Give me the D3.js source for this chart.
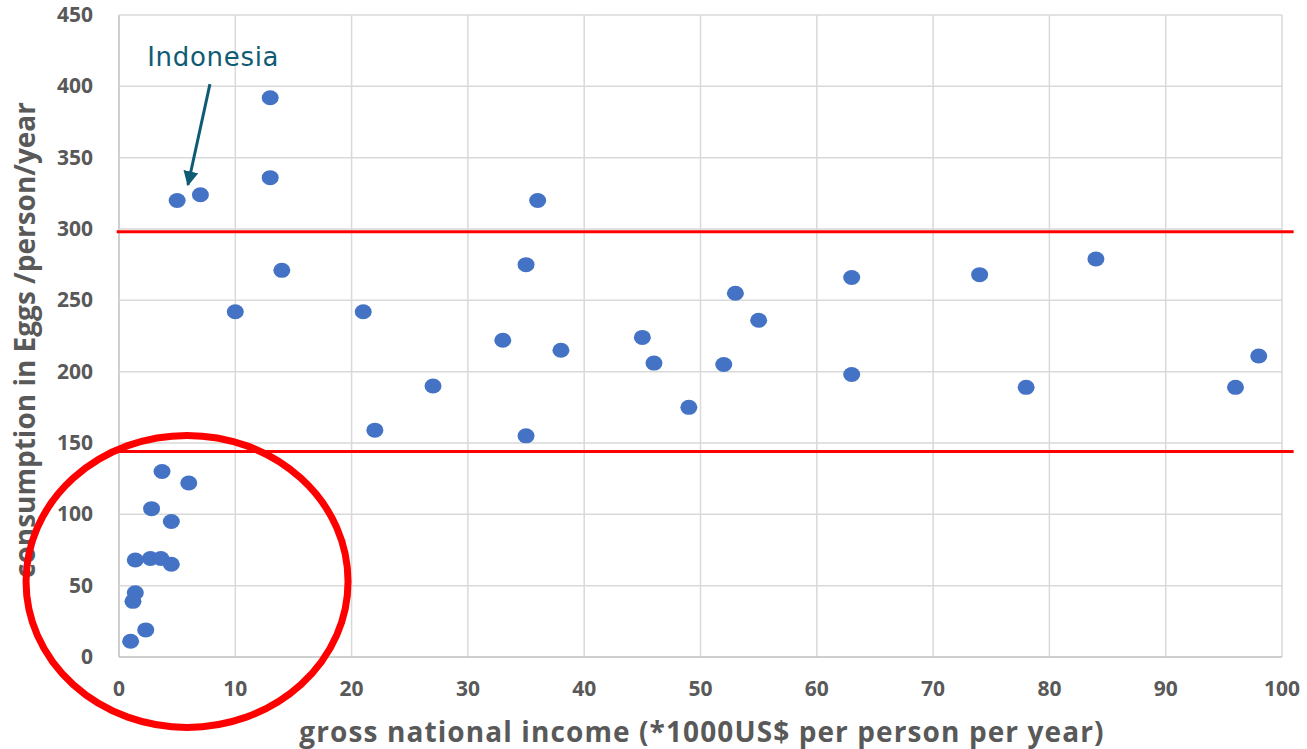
<!DOCTYPE html>
<html>
<head>
<meta charset="utf-8">
<script src="https://cdn.jsdelivr.net/npm/d3@7"></script>
<style>
  body { margin: 0; background: #fff; }
  svg { display: block; }
</style>
</head>
<body>
<svg></svg>
<script>
// gross national income (*1000 US$) and egg consumption per country
var income = [1.0, 2.3, 1.2, 1.4, 1.4, 2.7, 3.6, 4.5, 2.8, 4.5, 3.7, 6.0,
  5.0, 7.0, 13, 13, 14, 10, 21, 22, 27, 33, 35, 36, 35, 38,
  45, 46, 49, 52, 53, 55, 63, 63, 74, 78, 84, 96, 98];
var eggs = [11, 19, 39, 45, 68, 69, 69, 65, 104, 95, 130, 122,
  320, 324, 392, 336, 271, 242, 242, 159, 190, 222, 275, 320, 155, 215,
  224, 206, 175, 205, 255, 236, 266, 198, 268, 189, 279, 189, 211];
var refLines = [298, 144];
var xTicks = d3.range(0, 101, 10);
var yTicks = d3.range(0, 451, 50);
var xTitle = "gross national income (*1000US$ per person per year)";
var yTitle = "consumption in Eggs /person/year";
var label = "Indonesia";

var W = 1307, H = 749;
var margin = {left: 119, right: 25, top: 15, bottom: 92};

var svg = d3.select("svg").attr("width", W).attr("height", H);

var x = d3.scaleLinear().domain([0, 100]).range([margin.left, W - margin.right]);
var y = d3.scaleLinear().domain([0, 450]).range([H - margin.bottom, margin.top]);

var grid = svg.append("g");
grid.selectAll("line.v").data(xTicks).enter().append("line")
  .attr("x1", d => x(d)).attr("x2", d => x(d))
  .attr("y1", y(0)).attr("y2", y(450))
  .attr("stroke", d => d == 0 ? "#bfbfbf" : "#d9d9d9")
  .attr("stroke-width", 1.5);
grid.selectAll("line.h").data(yTicks).enter().append("line")
  .attr("y1", d => y(d)).attr("y2", d => y(d))
  .attr("x1", x(0)).attr("x2", x(100))
  .attr("stroke", d => d == 0 ? "#bfbfbf" : "#d9d9d9")
  .attr("stroke-width", 1.5);

// tick labels
var tickFont = "'Open Sans', sans-serif";
svg.append("g").selectAll("text").data(xTicks).enter().append("text")
  .attr("x", d => x(d)).attr("y", y(0) + 39)
  .attr("text-anchor", "middle")
  .attr("font-family", tickFont).attr("font-weight", "bold")
  .attr("font-size", 21).attr("fill", "#595959")
  .text(d => d);
svg.append("g").selectAll("text").data(yTicks).enter().append("text")
  .attr("x", 93).attr("y", d => y(d) + 7)
  .attr("text-anchor", "end")
  .attr("font-family", tickFont).attr("font-weight", "bold")
  .attr("font-size", 21).attr("fill", "#595959")
  .text(d => d);

// axis titles
svg.append("text")
  .attr("x", 702).attr("y", 742)
  .attr("text-anchor", "middle")
  .attr("font-family", tickFont).attr("font-weight", "bold")
  .attr("font-size", 28).attr("letter-spacing", 1.1).attr("fill", "#595959")
  .text(xTitle);
svg.append("text")
  .attr("transform", "translate(35," + 340 + ") rotate(-90)")
  .attr("text-anchor", "middle")
  .attr("font-family", tickFont).attr("font-weight", "bold")
  .attr("font-size", 28).attr("fill", "#595959")
  .text(yTitle);

// reference lines
svg.append("g").selectAll("line").data(refLines).enter().append("line")
  .attr("x1", x(-0.2)).attr("x2", x(101))
  .attr("y1", d => y(d)).attr("y2", d => y(d))
  .attr("stroke", "#ff0000").attr("stroke-width", 3);

// points
var pts = d3.range(income.length).map(i => ({gni: income[i], eggs: eggs[i]}));
svg.append("g").selectAll("ellipse").data(pts).enter().append("ellipse")
  .attr("cx", d => x(d.gni)).attr("cy", d => y(d.eggs))
  .attr("rx", 8.5).attr("ry", 7.5)
  .attr("fill", "#4472c4");

// red circle annotation around the low-income group
svg.append("ellipse")
  .attr("cx", x(5.85)).attr("cy", y(53))
  .attr("rx", 161).attr("ry", 146)
  .attr("fill", "none").attr("stroke", "#ff0000").attr("stroke-width", 7);

// Indonesia label with arrow
var teal = "#0f5b74";
svg.append("defs").append("marker")
  .attr("id", "arrow").attr("viewBox", "0 0 10 10")
  .attr("refX", 9).attr("refY", 5)
  .attr("markerWidth", 5).attr("markerHeight", 5)
  .attr("orient", "auto")
  .append("path").attr("d", "M0,0 L10,5 L0,10 z").attr("fill", teal);
svg.append("line")
  .attr("x1", x(7.82)).attr("y1", y(401.5))
  .attr("x2", x(5.93)).attr("y2", y(331))
  .attr("stroke", teal).attr("stroke-width", 3)
  .attr("marker-end", "url(#arrow)");
svg.append("text")
  .attr("x", x(8.1)).attr("y", y(414))
  .attr("text-anchor", "middle")
  .attr("font-family", "'DejaVu Sans', sans-serif")
  .attr("font-size", 26).attr("letter-spacing", 0.7).attr("fill", teal)
  .text(label);
</script>
</body>
</html>
